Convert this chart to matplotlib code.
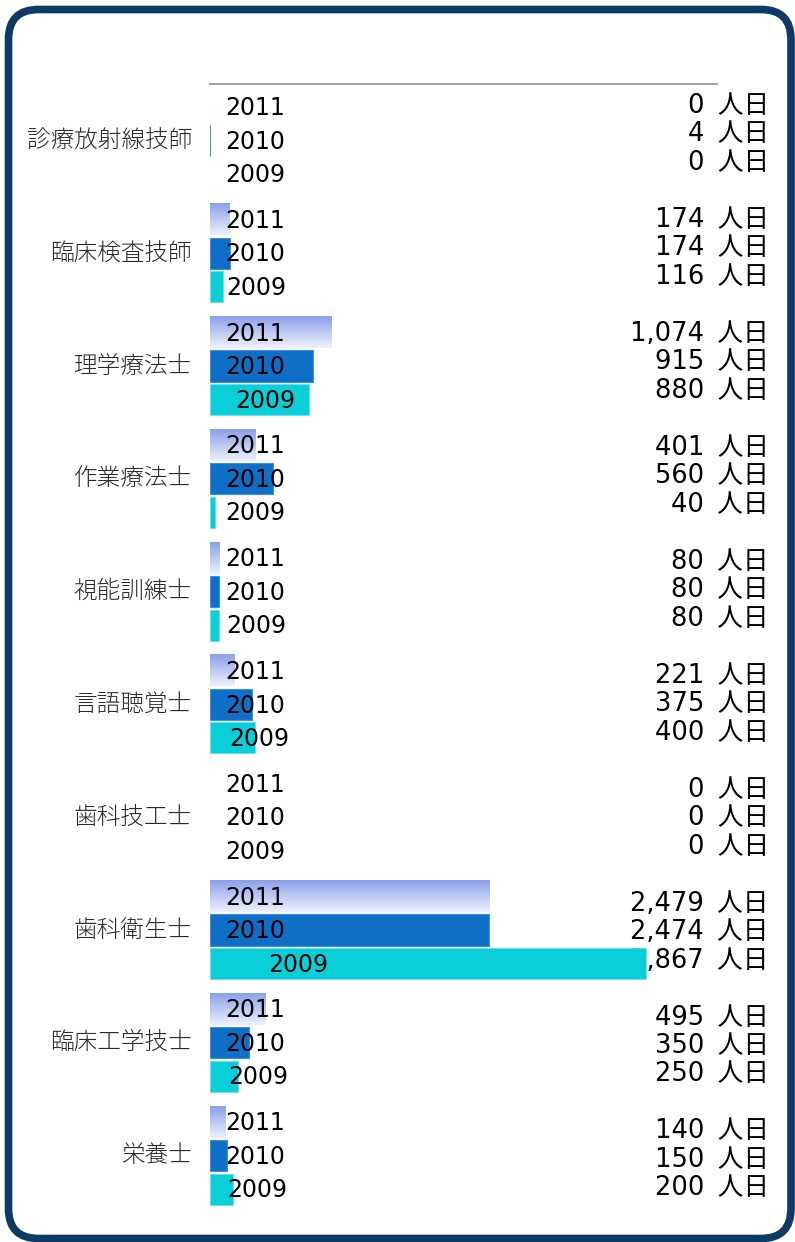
import numpy as np
import matplotlib.pyplot as plt
import matplotlib.transforms as mtransforms
from matplotlib.colors import LinearSegmentedColormap
from matplotlib.patches import FancyBboxPatch

plt.rcParams['font.family'] = ['DejaVu Sans', 'Noto Sans CJK JP']

jobs = ["診療放射線技師", "臨床検査技師", "理学療法士", "作業療法士", "視能訓練士",
        "言語聴覚士", "歯科技工士", "歯科衛生士", "臨床工学技士", "栄養士"]
years = ["2011", "2010", "2009"]
days_2011 = [0, 174, 1074, 401, 80, 221, 0, 2479, 495, 140]
days_2010 = [4, 174, 915, 560, 80, 375, 0, 2474, 350, 150]
days_2009 = [0, 116, 880, 40, 80, 400, 0, 3867, 250, 200]

W, H = 795, 1242
fig = plt.figure(figsize=(W / 100, H / 100), dpi=100)
fig.patch.set_facecolor("white")

# ── rounded frame ─────────────────────────────────────────────────────────────
bg = fig.add_axes([0, 0, 1, 1])
bg.set_xlim(0, W)
bg.set_ylim(H, 0)
bg.axis("off")
bg.add_patch(FancyBboxPatch((8.5, 9.5), 782.5, 1229,
                            boxstyle="round,pad=0,rounding_size=30",
                            facecolor="white", edgecolor="#0d3b66", linewidth=5.5))

# ── bar area ──────────────────────────────────────────────────────────────────
ax = fig.add_axes([210 / W, 1 - 1212 / H, 507 / W, 1128 / H])
ax.patch.set_alpha(0)

y = np.arange(len(jobs))
pitch = 0.297
bar_h = 0.276

grad = np.linspace(0, 1, 64).reshape(-1, 1)
cmap_2011 = LinearSegmentedColormap.from_list("g2011", ["#8aa1ea", "#edf0fb"])
for yi, v in zip(y, days_2011):
    if v > 0:
        ax.imshow(grad, cmap=cmap_2011, aspect="auto", zorder=3,
                  extent=(0, v, yi - pitch + bar_h / 2, yi - pitch - bar_h / 2))

# zero-length bars get no outline
lw_2010 = [0.8 if v > 0 else 0 for v in days_2010]
lw_2009 = [0.5 if v > 0 else 0 for v in days_2009]
ax.barh(y, days_2010, height=bar_h, color="#0f6fc6", edgecolor="#3d8fe0",
        linewidth=lw_2010, zorder=3)
ax.barh(y + pitch, days_2009, height=bar_h, color="#0bcfd8", edgecolor="#5fe0e6",
        linewidth=lw_2009, zorder=3)

ax.set_xlim(0, 4500)
ax.set_ylim(len(jobs) - 0.5, -0.5)
ax.set_xticks([])
ax.set_yticks([])
for side in ["left", "right", "bottom"]:
    ax.spines[side].set_visible(False)
ax.spines["top"].set_color("#9a9a9a")
ax.spines["top"].set_linewidth(1.3)

# year labels sit over the bars
shift = mtransforms.ScaledTranslation(15 / 100, 0, fig.dpi_scale_trans)
for yi, v09 in zip(y, days_2009):
    for k, yr in enumerate(years):
        xd = 0.1 * v09 if yr == "2009" else 0
        ax.text(xd, yi + (k - 1) * pitch + 0.01, yr, transform=ax.transData + shift,
                ha="left", va="center", fontsize=17, color="black",
                zorder=5, clip_on=False)

# value labels on the right, drawn beneath the bars
for i, (a, b, c) in enumerate(zip(days_2011, days_2010, days_2009)):
    centre = i + (-6 + 1.15 * i) / 112.9
    for k, v in enumerate((a, b, c)):
        ax.text(4960, centre + (k - 1) * 28.5 / 112.9, f"{v:,}\u2009 人日",
                ha="right", va="center", fontsize=18.5, color="black",
                zorder=1, clip_on=False)

# category names
for yi, name in zip(y, jobs):
    ax.text(-18 / 507 * 4500, yi, name, ha="right", va="center",
            fontsize=17, color="#2a2a2a", family=["Noto Sans CJK JP"],
            fontweight="light", clip_on=False)

fig.savefig("out.png", dpi=100)
